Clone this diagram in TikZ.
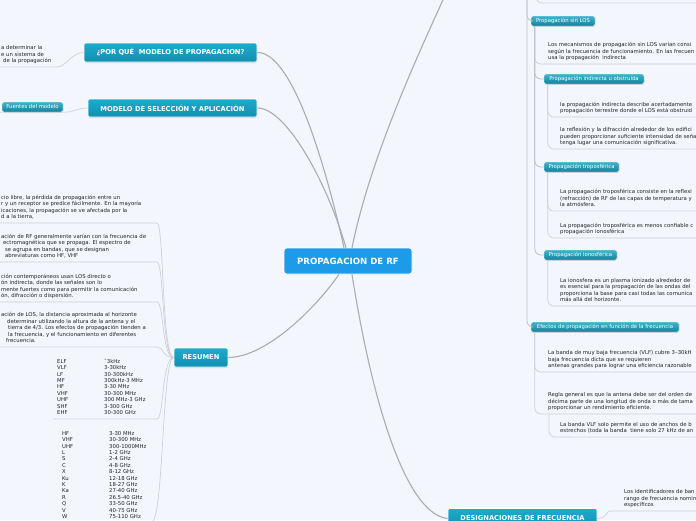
\documentclass[tikz,border=0pt]{standalone}
\usepackage{fontspec}
\setmainfont{DejaVu Sans}
\usetikzlibrary{positioning, shadows}
\definecolor{mmbg}{RGB}{243,246,253}
\definecolor{mmroot}{RGB}{30,155,232}
\definecolor{brtop}{RGB}{30,170,204}
\definecolor{brbot}{RGB}{18,143,176}
\definecolor{subtop}{RGB}{66,180,206}
\definecolor{subbot}{RGB}{20,128,156}
\definecolor{mmtext}{RGB}{35,35,40}
\definecolor{mmline}{RGB}{170,172,176}
\definecolor{mmsub}{RGB}{190,194,202}
\definecolor{mmnote}{RGB}{205,209,216}
\newcommand{\notetext}[1]{\begin{tabular}[b]{@{}l@{}}#1\end{tabular}}
\tikzset{
  rootbox/.style={rectangle, fill=mmroot, draw=white, line width=0.6pt,
    rounded corners=3pt, text=white, font=\fontsize{8.6}{10}\selectfont\bfseries,
    minimum width=128pt, minimum height=26pt, inner sep=2pt},
  branchbox/.style={rectangle, top color=brtop, bottom color=brbot, draw=white,
    line width=0.6pt, rounded corners=2pt, text=white,
    font=\fontsize{6.7}{8}\selectfont\bfseries, minimum height=19pt, inner sep=2pt,
    drop shadow={opacity=0.25, shadow xshift=0.4pt, shadow yshift=-1pt}},
  subbox/.style={rectangle, top color=subtop, bottom color=subbot, draw=white,
    line width=0.4pt, rounded corners=1.5pt, text=white,
    font=\fontsize{5.3}{6}\selectfont, minimum height=10pt, inner sep=1pt,
    drop shadow={opacity=0.25, shadow xshift=0.3pt, shadow yshift=-0.8pt}},
  note/.style={inner sep=0pt, anchor=south west, text depth=4.3pt, text=mmtext,
    font=\fontsize{5.35}{6.4}\selectfont},
  mainline/.style={draw=mmline, line width=1.1pt},
  subline/.style={draw=mmsub, line width=0.8pt, rounded corners=6pt},
  noteline/.style={draw=mmnote, line width=0.7pt, rounded corners=6pt}
}
\begin{document}
\begin{tikzpicture}[x=1pt, y=-1pt]
  \useasboundingbox (0,0) rectangle (696,520);
  \clip (0,0) rectangle (696,520);
  \fill[mmbg] (0,0) rectangle (696,520);

  % Central topic and main branches
  \node[rootbox] (root) at (348,261) {PROPAGACION DE RF};
  \node[branchbox, minimum width=173pt] (why) at (170.5,52.5) {¿POR QUÉ\ \ MODELO DE PROPAGACION?};
  \node[branchbox, minimum width=169pt, minimum height=18pt] (modsel) at (172.5,108) {MODELO DE SELECCIÓN Y APLICACIÓN};
  \node[branchbox, minimum width=54pt] (resumen) at (201,357.5) {RESUMEN};
  \node[branchbox, minimum width=149pt, minimum height=20pt] (design) at (522.5,518.5) {DESIGNACIONES DE FRECUENCIA};
  \coordinate (upbranch) at (452,-20);
  \coordinate (rightparent) at (527,-20);
  \coordinate (topnoteparent) at (536,-20);
  \coordinate (topnoteend) at (700,3);
  \coordinate (leftjoin) at (151,0);
  \coordinate (rightedge) at (700,0);

  % Left side
  \node[note] (whynote) at (1,67) {\notetext{a determinar la\\e un sistema de\\\hspace*{2pt}de la propagación}};
  \node[subbox, minimum width=61pt] (fuentes) at (32.5,107) {Fuentes del modelo};
  \coordinate (fuentesout) at (-6,112);

  \node[note] (sum1) at (1,223) {\notetext{cio libre, la pérdida de propagación entre un\\r y un receptor se predice fácilmente. En la mayoría\\icaciones, la propagación se ve afectada por la\\d a la tierra,}};
  \node[note] (sum2) at (1,262) {\notetext{ación de RF generalmente varían con la frecuencia de\\\hspace*{2pt}ectromagnética que se propaga. El espectro de\\\hspace*{4pt}se agrupa en bandas, que se designan\\\hspace*{4pt}abreviaturas como HF, VHF}};
  \node[note] (sum3) at (1,302) {\notetext{ción contemporáneos usan LOS directo o\\ón indirecta, donde las señales son lo\\mente fuertes como para permitir la comunicación\\ón, difracción o dispersión.}};
  \node[note] (sum4) at (1,347) {\notetext{ación de LOS, la distancia aproximada al horizonte\\\hspace*{6pt}determinar utilizando la altura de la antena y el\\\hspace*{7pt}tierra de 4/3. Los efectos de propagación tienden a\\\hspace*{7pt}la frecuencia, y el funcionamiento en diferentes\\\hspace*{5pt}frecuencia.}};
  \node[note] (bands) at (57,419) {\begin{tabular}[b]{@{}p{47pt}@{}l@{}}
    ELF & ˆ3kHz\\ VLF & 3-30kHz\\ LF & 30-300kHz\\ MF & 300kHz-3 MHz\\
    HF & 3-30 MHz\\ VHF & 30-300 MHz\\ UHF & 300 MHz-3 GHz\\
    SHF & 3-300 GHz\\ EHF & 30-300 GHz\end{tabular}};
  \node[note] (radar) at (62,523) {\begin{tabular}[b]{@{}p{47pt}@{}l@{}}
    HF & 3-30 MHz\\ VHF & 30-300 MHz\\ UHF & 300-1000MHz\\ L & 1-2 GHz\\
    S & 2-4 GHz\\ C & 4-8 GHz\\ X & 8-12 GHz\\ Ku & 12-18 GHz\\
    K & 18-27 GHz\\ Ka & 27-40 GHz\\ R & 26.5-40 GHz\\ Q & 33-50 GHz\\
    V & 40-75 GHz\\ W & 75-110 GHz\end{tabular}};

  % Right side
  \node[subbox, minimum width=64pt] (sinlos) at (563,21) {Propagación sin LOS};
  \node[note] (losnote) at (548,64) {\notetext{Los mecanismos de propagación sin LOS varían consi\\según la frecuencia de funcionamiento. En las frecuen\\usa la propagación\ \ indirecta}};
  \node[subbox, minimum width=100pt] (indirecta) at (594,79) {Propagación indirecta u obstruida};
  \node[note] (indnote1) at (560,117) {\notetext{la propagación indirecta describe acertadamente\\propagación terrestre donde el LOS está obstruid}};
  \node[note] (indnote2) at (560,149) {\notetext{la reflexión y la difracción alrededor de los edifici\\pueden proporcionar suficiente intensidad de seña\\tenga lugar una comunicación significativa.}};
  \node[subbox, minimum width=75pt] (tropo) at (581.5,167) {Propagación troposférica};
  \node[note] (tropnote1) at (560,211) {\notetext{La propagación troposférica consiste en la reflexi\\(refracción) de RF de las capas de temperatura y\\la atmósfera.}};
  \node[note] (tropnote2) at (560,238) {\notetext{La propagación troposférica es menos confiable c\\propagación ionosférica}};
  \node[subbox, minimum width=73pt] (iono) at (580.5,255) {Propagación ionosférica};
  \node[note] (ionnote) at (560,306) {\notetext{La ionosfera es un plasma ionizado alrededor de\\es esencial para la propagación de las ondas del\\proporciona la base para casi todas las comunica\\más allá del horizonte.}};
  \node[subbox, minimum width=148pt] (efectos) at (605,327) {Efectos de propagación en función de la frecuencia};
  \node[note] (efnote1) at (548,372) {\notetext{La banda de muy baja frecuencia (VLF) cubre 3–30kH\\baja frecuencia dicta que se requieren\\antenas grandes para lograr una eficiencia razonable}};
  \node[note] (efnote2) at (548,414) {\notetext{Regla general es que la antena debe ser del orden de\\décima parte de una longitud de onda o más de tama\\proporcionar un rendimiento eficiente.}};
  \node[note] (efnote3) at (560,437) {\notetext{La banda VLF solo permite el uso de anchos de b\\estrechos (toda la banda\ \ tiene solo 27 kHz de an}};
  \node[note] (desnote) at (624,511) {\notetext{Los identificadores de ban\\rango de frecuencia nomin\\específicos}};

  % Paths from the central topic
  \draw[mainline] ([xshift=-4pt]root.north) .. controls (322,150) and (290,52) .. (why.east);
  \draw[mainline] ([xshift=-2pt]root.north) .. controls (328,185) and (287,108) .. (modsel.east);
  \draw[mainline] ([xshift=4pt]root.north) .. controls (372,150) and (425,40) .. (upbranch);
  \draw[mainline] ([xshift=-9pt]root.south) .. controls (318,305) and (268,357) .. (resumen.east);
  \draw[mainline] ([xshift=4pt]root.south) .. controls (375,420) and (410,515) .. (design.west);

  % Left paths
  \draw[noteline] ([xshift=-3pt]whynote.south west) -- (whynote.south east) .. controls +(14,0) and +(-12,0) .. (why.west);
  \draw[noteline] (fuentes.south east) .. controls +(12,0) and +(-12,0) .. (modsel.west);
  \draw[noteline] (fuentes.south west) -- (fuentesout);
  \foreach \n in {sum1,sum2,sum3,sum4}
    \draw[noteline] ([xshift=-4pt]\n.south west) -- (\n.south west -| leftjoin) .. controls +(13,0) and +(-12,0) .. (resumen.west);
  \draw[noteline] ([xshift=-4pt]bands.south west) -- (bands.south west -| leftjoin) .. controls +(13,0) and +(-12,0) .. (resumen.west);
  \draw[noteline] (resumen.west) .. controls +(-12,0) and +(13,0) .. (radar.south west -| leftjoin);

  % Right paths
  \draw[noteline] (topnoteparent) |- (topnoteend);
  \draw[subline] (rightparent) |- (sinlos.west);
  \draw[subline] (rightparent) |- (efectos.west);
  \draw[noteline] ([xshift=4pt]sinlos.south west) |- (losnote.south west) -- (losnote.south west -| rightedge);
  \foreach \n in {indirecta,tropo,iono}
    \draw[subline] ([xshift=4pt]sinlos.south west) |- (\n.west);
  \foreach \p/\n in {indirecta/indnote1,indirecta/indnote2,tropo/tropnote1,tropo/tropnote2,iono/ionnote}
    \draw[noteline] ([xshift=4pt]\p.south west) |- (\n.south west) -- (\n.south west -| rightedge);
  \foreach \n in {efnote1,efnote2}
    \draw[noteline] ([xshift=4pt]efectos.south west) |- (\n.south west) -- (\n.south west -| rightedge);
  \draw[noteline] ([xshift=1pt]efnote2.south west) |- (efnote3.south west) -- (efnote3.south west -| rightedge);
  \draw[noteline] (design.east) .. controls +(10,0) and +(-8,0) .. ([xshift=-9pt]desnote.south west) -- (desnote.south west -| rightedge);
\end{tikzpicture}
\end{document}
